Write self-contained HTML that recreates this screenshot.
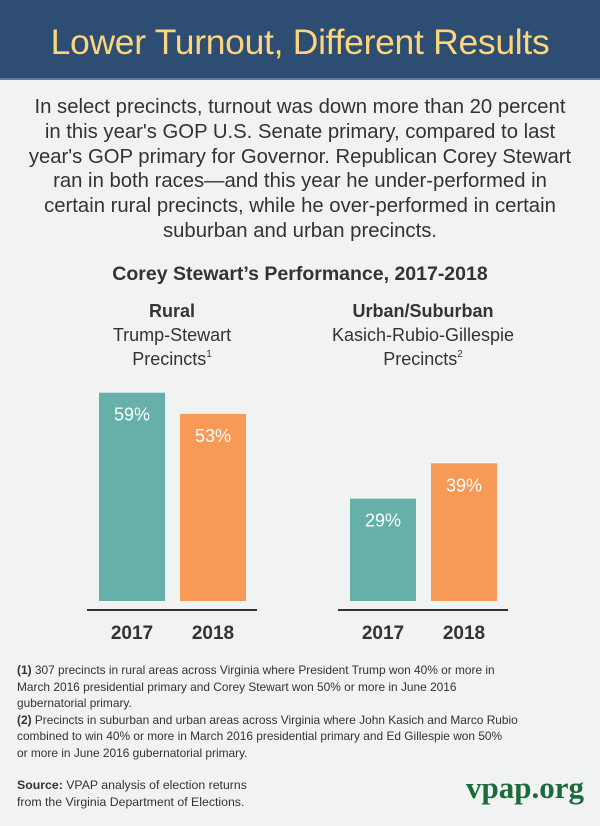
<!DOCTYPE html>
<html><head><meta charset="utf-8"><style>
body{margin:0;width:600px;height:826px;background:#f1f2f2;font-family:"Liberation Sans",sans-serif;position:relative;overflow:hidden;color:#333}
.hdr{position:absolute;left:0;top:0;width:600px;height:80px;background:#2d4e72;border-bottom:2px solid #5d7ea3;box-sizing:border-box}
.hdr h1{margin:0;color:#fcd57c;font-size:35.5px;font-weight:normal;text-align:center;line-height:84px;letter-spacing:-0.3px}
.intro{position:absolute;left:0;width:600px;top:95px;text-align:center;font-size:20.3px;line-height:24.8px;color:#333;white-space:nowrap}
.ab{position:absolute;text-align:center}
.fn{position:absolute;left:17px;top:662px;width:580px;font-size:11.9px;line-height:16.5px;color:#333;white-space:nowrap}
.src{position:absolute;left:17px;top:777px;font-size:12.3px;line-height:16.5px}
.logo{position:absolute;left:466px;top:770px;font-family:"Liberation Serif",serif;font-weight:bold;font-size:31px;color:#1d6b3b;letter-spacing:0px}
sup{font-size:10px;line-height:0;position:relative;top:-1px}
</style></head><body>
<div class="hdr"><h1>Lower Turnout, Different Results</h1></div>
<div class="intro">In select precincts, turnout was down more than 20 percent<br>in this year's GOP U.S. Senate primary, compared to last<br>year's GOP primary for Governor. Republican Corey Stewart<br>ran in both races—and this year he under-performed in<br>certain rural precincts, while he over-performed in certain<br>suburban and urban precincts.</div>
<div class="ab" style="left:0;width:600px;top:263px;font-size:19.5px;font-weight:bold">Corey Stewart’s Performance, 2017-2018</div>
<div class="ab" style="left:72px;width:200px;top:299px;font-size:18px;line-height:24px"><b>Rural</b><br>Trump-Stewart<br>Precincts<sup>1</sup></div>
<div class="ab" style="left:323px;width:200px;top:299px;font-size:18px;line-height:24px"><b>Urban/Suburban</b><br>Kasich-Rubio-Gillespie<br>Precincts<sup>2</sup></div>
<svg id="chart" width="600" height="826" style="position:absolute;left:0;top:0"></svg>
<div class="fn"><b>(1)</b> 307 precincts in rural areas across Virginia where President Trump won 40% or more in<br>March 2016 presidential primary and Corey Stewart won 50% or more in June 2016<br>gubernatorial primary.<br><b>(2)</b> Precincts in suburban and urban areas across Virginia where John Kasich and Marco Rubio<br>combined to win 40% or more in March 2016 presidential primary and Ed Gillespie won 50%<br>or more in June 2016 gubernatorial primary.</div>
<div class="src"><b>Source:</b> VPAP analysis of election returns<br>from the Virginia Department of Elections.</div>
<div class="logo">vpap.org</div>
<script>
const groups=["Rural","Urban/Suburban"];
const years=["2017","2018"];
const values2017=[59,29];
const values2018=[53,39];
const svg=document.getElementById('chart');
const NS="http://www.w3.org/2000/svg";
const base=601, scale=3.53;
const y=v=>base-v*scale;
const groupX=[87,338], barOff=[12,93], barW=66;
const colors=["#65b1aa","#f79a58"];
function mk(t,a){const e=document.createElementNS(NS,t);for(const k in a)e.setAttribute(k,a[k]);svg.appendChild(e);return e;}
groups.forEach((g,gi)=>{
  const ln=mk('line',{x1:groupX[gi],x2:groupX[gi]+170,y1:610,y2:610,stroke:'#333','stroke-width':2});
  
  
  [values2017[gi],values2018[gi]].forEach((v,si)=>{
    const x=groupX[gi]+barOff[si];
    const r=mk('rect',{x:x,y:y(v),width:barW,height:base-y(v),fill:colors[si]});
    
    
    const t=mk('text',{x:x+barW/2,y:y(v)+28,'text-anchor':'middle',fill:'#fff','font-size':18,'font-family':'Liberation Sans, sans-serif'});
    t.textContent=v+'%';
    
    
    const yl=mk('text',{x:x+barW/2,y:639,'text-anchor':'middle',fill:'#333','font-size':19,'font-weight':'bold','font-family':'Liberation Sans, sans-serif'});
    yl.textContent=years[si];
    
    
  });
});
</script>
</body></html>
